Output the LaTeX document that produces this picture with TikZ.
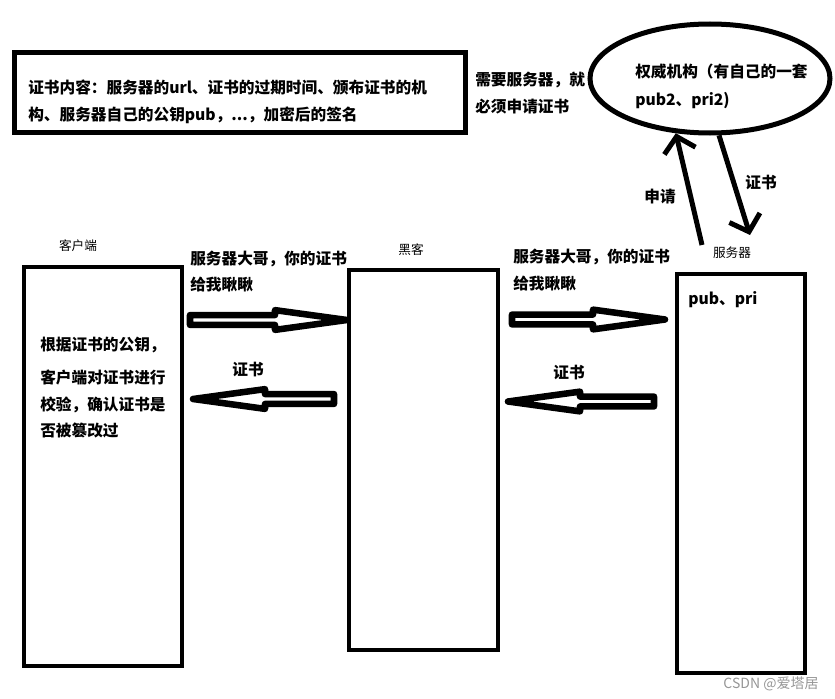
\documentclass[tikz,border=0pt]{standalone}
\usepackage{fontspec}
\newfontfamily\cjk{Noto Sans CJK SC}
\usetikzlibrary{shapes.geometric, arrows.meta}
\definecolor{markgray}{RGB}{150,150,150}
\tikzset{
  box/.style={rectangle, draw, line width=3pt, inner sep=0pt},
  txt/.style={font=\cjk\bfseries\fontsize{11.75pt}{20pt}\selectfont, align=left, inner sep=0pt},
  tag/.style={font=\cjk\fontsize{9.5pt}{11pt}\selectfont, inner sep=0pt},
  fatright/.style={line width=4.9pt, line join=round,
    to path={([yshift=3.7pt]\tikztostart) -- ([xshift=-54pt,yshift=3.7pt]\tikztotarget)
      -- ([xshift=-54pt,yshift=7.4pt]\tikztotarget) -- (\tikztotarget)
      -- ([xshift=-54pt,yshift=-7.4pt]\tikztotarget) -- ([xshift=-54pt,yshift=-3.7pt]\tikztotarget)
      -- ([yshift=-3.7pt]\tikztostart) -- cycle}},
  fatleft/.style={line width=4.9pt, line join=round,
    to path={([yshift=3.7pt]\tikztostart) -- ([xshift=54pt,yshift=3.7pt]\tikztotarget)
      -- ([xshift=54pt,yshift=7.4pt]\tikztotarget) -- (\tikztotarget)
      -- ([xshift=54pt,yshift=-7.4pt]\tikztotarget) -- ([xshift=54pt,yshift=-3.7pt]\tikztotarget)
      -- ([yshift=-3.7pt]\tikztostart) -- cycle}},
  barb/.style={-{Straight Barb[length=11pt, width=24pt]}, line width=3.75pt},
}
\begin{document}
\begin{tikzpicture}[x=0.75pt, y=-0.75pt]
  \useasboundingbox (0,0) rectangle (835,699);

  \node[box, line width=3.75pt, minimum width=338.25pt, minimum height=60pt, anchor=north west] (certbox) at (12,50) {};
  \node[txt, anchor=west, text depth=0pt] (certtext) at (28,100)
    {证书内容：服务器的url、证书的过期时间、颁布证书的机\\构、服务器自己的公钥pub，...，加密后的签名};
  \node[txt, anchor=west] (needtext) at (475,93) {需要服务器，就\\必须申请证书};

  \node[ellipse, draw, line width=3.75pt, minimum width=180pt, minimum height=81.75pt, inner sep=0pt] (auth) at (710,78.5) {};
  \node[txt, anchor=west, font=\cjk\bfseries\fontsize{11.75pt}{21pt}\selectfont] (authtext) at (635,86) {权威机构（有自己的一套\\pub2、pri2)};

  \node[box, minimum width=118.5pt, minimum height=299.25pt, anchor=north west] (client) at (22,265) {};
  \node[box, minimum width=111.75pt, minimum height=285pt, anchor=north west] (hacker) at (347,268) {};
  \node[box, minimum width=96pt, minimum height=299.25pt, anchor=north west] (server) at (675,272) {};

  \node[tag] (clienttag) at (78,246) {客户端};
  \node[tag] (hackertag) at (411,250) {黑客};
  \node[tag] (servertag) at (732,253) {服务器};

  \node[txt, anchor=west] (keys) at (688,300) {pub、pri};
  \node[txt, anchor=west] (check) at (40,388) {根据证书的公钥，\\[4.5pt]客户端对证书进行\\校验，确认证书是\\否被篡改过};

  \node[txt, anchor=west] (ask1) at (190,271.5) {服务器大哥，你的证书\\给我瞅瞅};
  \node[txt, anchor=west] (ask2) at (513,270) {服务器大哥，你的证书\\给我瞅瞅};
  \node[txt] (cert1) at (248,370) {证书};
  \node[txt] (cert2) at (569,373) {证书};

  \coordinate (askA) at (190,320);
  \coordinate (askB) at (347,320);
  \coordinate (askC) at (512,319.5);
  \coordinate (askD) at (665,319.5);
  \coordinate (backA) at (334,399);
  \coordinate (backB) at (193,399);
  \coordinate (backC) at (654,401.5);
  \coordinate (backD) at (508,401.5);
  \draw[fatright] (askA) to (askB);
  \draw[fatright] (askC) to (askD);
  \draw[fatleft] (backA) to (backB);
  \draw[fatleft] (backC) to (backD);

  \coordinate (reqfrom) at (702,245);
  \coordinate (certto) at (750,235);
  \draw[barb] (reqfrom) -- (auth.238);
  \draw[barb] (auth.279) -- (certto);
  \node[txt] (reqtag) at (660,197) {申请};
  \node[txt] (certtag) at (761,183) {证书};

  \node[font=\cjk\fontsize{10.5pt}{12pt}\selectfont, text=markgray, inner sep=0pt] (mark) at (771,684) {CSDN @爱塔居};
\end{tikzpicture}
\end{document}
